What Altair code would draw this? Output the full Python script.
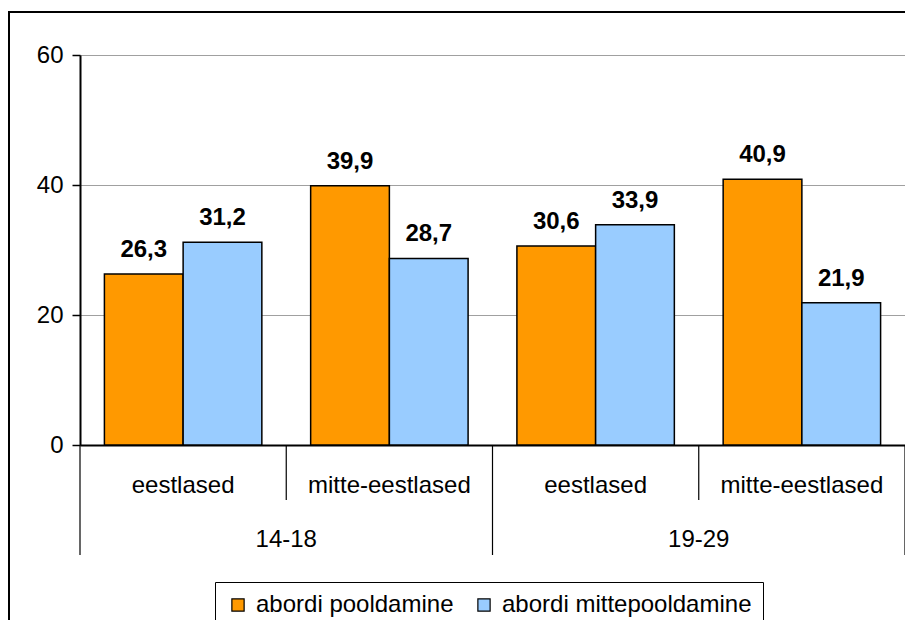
import altair as alt
import pandas as pd

groups = ["14-18", "14-18", "19-29", "19-29"]
subcats = ["eestlased", "mitte-eestlased", "eestlased", "mitte-eestlased"]
series = ["abordi pooldamine", "abordi mittepooldamine"]
pooldamine = [26.3, 39.9, 30.6, 40.9]
mittepooldamine = [31.2, 28.7, 33.9, 21.9]
y_ticks = [0, 20, 40, 60]
colors = ["#FF9900", "#99CCFF"]

FONT = "Liberation Sans"
W, H = 825, 390

cat_ids = [f"{g}|{s}" for g, s in zip(groups, subcats)]
rows = []
for cid, g, s, a, b in zip(cat_ids, groups, subcats, pooldamine, mittepooldamine):
    rows.append({"cat": cid, "group": g, "sub": s, "series": series[0], "value": a})
    rows.append({"cat": cid, "group": g, "sub": s, "series": series[1], "value": b})
df = pd.DataFrame(rows)
df["label"] = df["value"].map(lambda v: f"{v:.1f}".replace(".", ","))

x_scale = alt.Scale(domain=cat_ids, paddingInner=0, paddingOuter=0)
xoff_scale = alt.Scale(domain=series, paddingInner=0, paddingOuter=0.31)
y_scale = alt.Scale(domain=[0, 60], nice=False)

x_axis = alt.Axis(labels=False, ticks=False, domain=True, domainColor="black",
                  domainWidth=2, title=None, grid=False)
y_axis = alt.Axis(values=y_ticks, title=None, labelFontSize=24, labelFont=FONT,
                  labelColor="black", tickSize=8, tickColor="black", tickWidth=1.5,
                  domainColor="black", domainWidth=2, gridColor="#a0a0a0",
                  gridWidth=1, labelPadding=9)


def xenc(**kw):
    return alt.X("cat:N", scale=x_scale, sort=cat_ids, axis=x_axis, **kw)


bars = alt.Chart(df).mark_bar(stroke="black", strokeWidth=1.5).encode(
    x=xenc(),
    xOffset=alt.XOffset("series:N", scale=xoff_scale, sort=series),
    y=alt.Y("value:Q", scale=y_scale, axis=y_axis),
    color=alt.Color("series:N", scale=alt.Scale(domain=series, range=colors),
                    legend=alt.Legend(orient="none", legendX=135, legendY=527,
                                      direction="horizontal", title=None,
                                      labelFontSize=24, labelFont=FONT, labelColor="black",
                                      labelLimit=500,
                                      symbolType="square", symbolSize=150,
                                      symbolStrokeColor="black", symbolStrokeWidth=1.2,
                                      symbolOpacity=1,
                                      strokeColor="black", fillColor="white",
                                      padding=11, columnPadding=18, labelOffset=6)),
)

value_labels = alt.Chart(df).mark_text(
    font=FONT, fontSize=24, fontWeight="bold", baseline="alphabetic", dy=-17, color="black"
).encode(
    x=xenc(),
    xOffset=alt.XOffset("series:N", scale=xoff_scale, sort=series),
    y=alt.Y("value:Q", scale=y_scale, axis=y_axis),
    text="label:N",
)

sub_df = pd.DataFrame({"cat": cat_ids, "sub": subcats})
sub_labels = alt.Chart(sub_df).mark_text(
    font=FONT, fontSize=24, baseline="middle", color="black"
).encode(
    x=xenc(),
    y=alt.value(H + 41),
    text="sub:N",
)

grp_df = pd.DataFrame({"cat": [cat_ids[0], cat_ids[2]], "group": [groups[0], groups[2]]})
grp_labels = alt.Chart(grp_df).mark_text(
    font=FONT, fontSize=24, baseline="middle", color="black"
).encode(
    x=xenc(bandPosition=1),
    y=alt.value(H + 95),
    text="group:N",
)

short_df = pd.DataFrame({"cat": [cat_ids[1], cat_ids[3]]})
short_sep = alt.Chart(short_df).mark_rule(color="black", strokeWidth=1.2).encode(
    x=xenc(bandPosition=0),
    y=alt.value(H), y2=alt.value(H + 55),
)

long_df = pd.DataFrame({"cat": [cat_ids[0], cat_ids[2]]})
long_sep = alt.Chart(long_df).mark_rule(color="black", strokeWidth=1.2).encode(
    x=xenc(bandPosition=0),
    y=alt.value(H), y2=alt.value(H + 110),
)
end_df = pd.DataFrame({"cat": [cat_ids[3]]})
end_sep = alt.Chart(end_df).mark_rule(color="black", strokeWidth=1.2).encode(
    x=xenc(bandPosition=1),
    y=alt.value(H), y2=alt.value(H + 110),
)

frame = alt.Chart(pd.DataFrame({"a": [0]})).mark_rect(
    fillOpacity=0, stroke="black", strokeWidth=2
).encode(
    x=alt.value(-71), x2=alt.value(W + 60), y=alt.value(-43), y2=alt.value(H + 300),
)

chart = alt.layer(
    bars, value_labels, sub_labels, grp_labels, short_sep, long_sep, end_sep, frame
).properties(
    width=W, height=H,
    autosize=alt.AutoSizeParams(type="none"),
    padding={"left": 72, "top": 47, "right": 0, "bottom": 175},
).configure(
    font=FONT
).configure_view(
    stroke="#a0a0a0", strokeWidth=1
)

chart.save("out.html", embed_options={"renderer": "svg", "actions": False})
